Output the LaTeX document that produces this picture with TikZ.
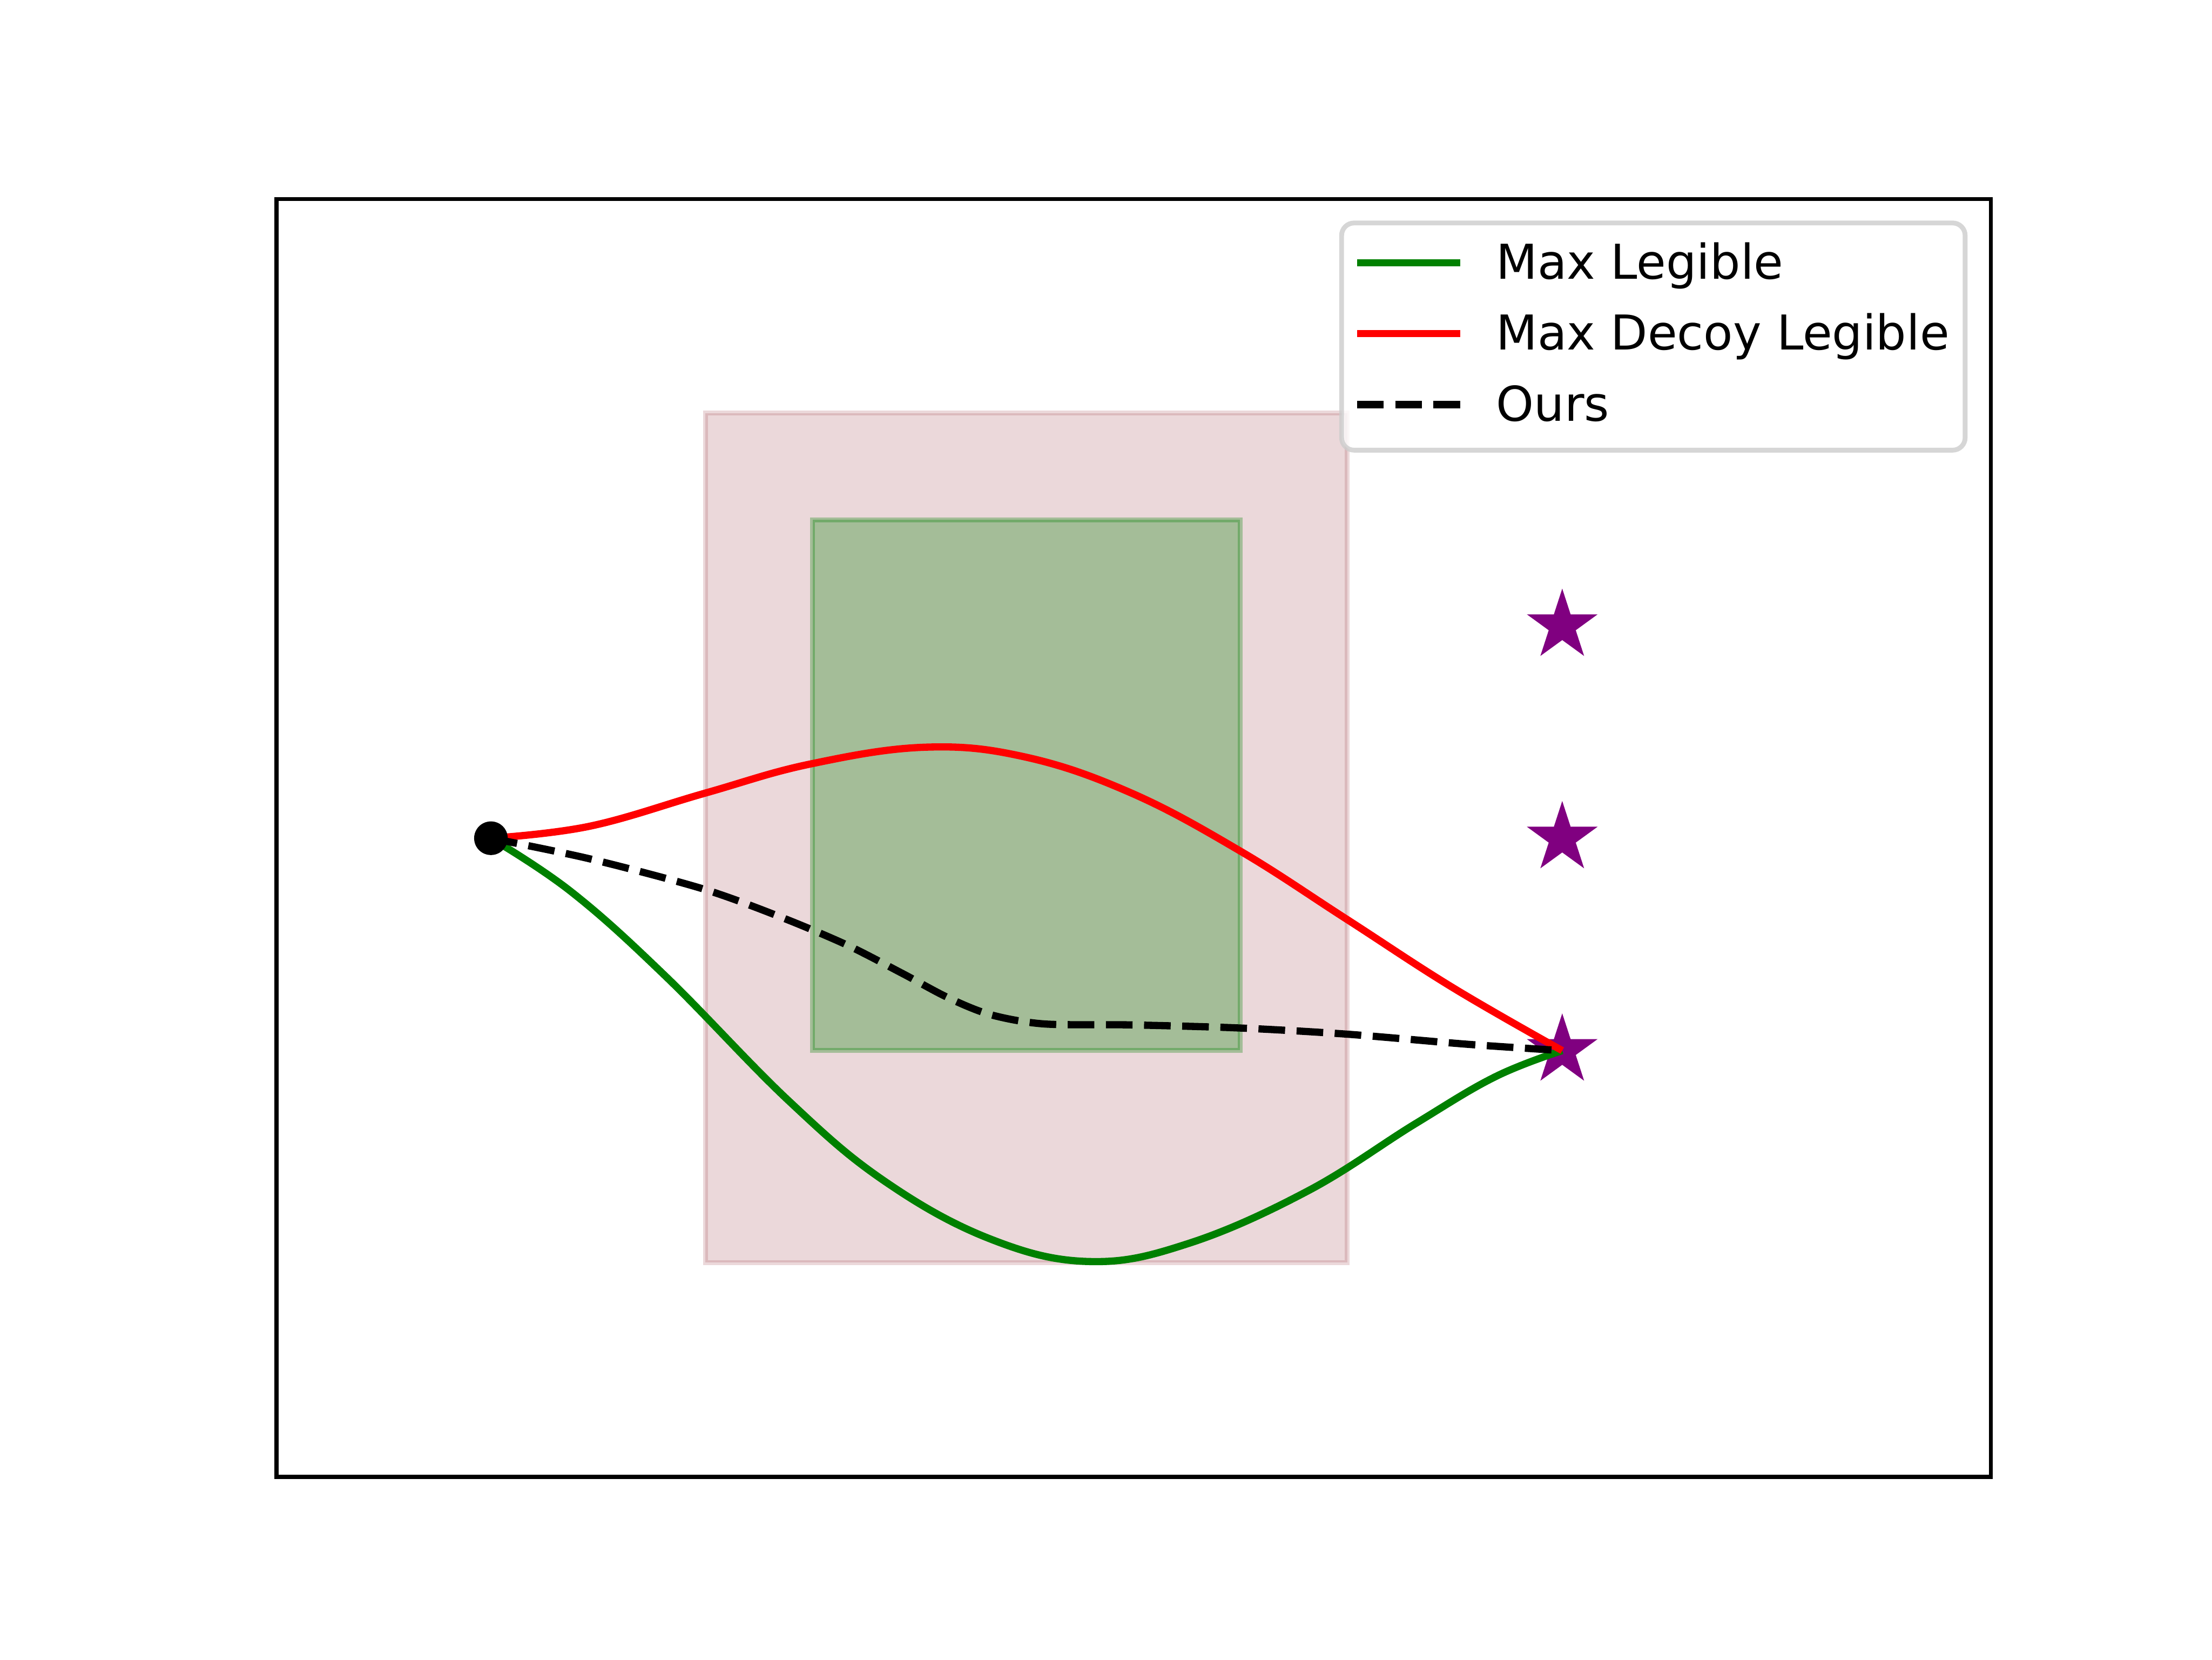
\documentclass[tikz,border=0pt]{standalone}
\usepackage{fontspec}
\setmainfont{DejaVu Sans}
\usetikzlibrary{shapes.geometric}
\definecolor{mplgreen}{RGB}{0,128,0}
\definecolor{mplred}{RGB}{255,0,0}
\definecolor{mplpurple}{RGB}{128,0,128}
\definecolor{zonered}{RGB}{155,60,70}
\definecolor{legendedge}{RGB}{204,204,204}

\begin{document}
\begin{tikzpicture}[x=0.293878pt,y=-0.293878pt,
  zone/.style={fill=#1,draw=#1,line width=1pt},
  maxleg/.style={draw=mplgreen,line width=1.5pt},
  decoyleg/.style={draw=mplred,line width=1.5pt},
  ours/.style={draw=black,line width=1.5pt,dash pattern=on 5.55pt off 2.4pt},
  goalstar/.style={star,star points=5,star point ratio=2.618,fill=mplpurple,
    inner sep=0pt,minimum size=15.5pt},
  startdot/.style={circle,fill=black,inner sep=0pt,minimum size=7pt},
  legtext/.style={anchor=base west,font=\fontsize{10}{12}\selectfont,inner sep=0pt}]
\useasboundingbox (0,0) rectangle (1568,1176);
% axes frame
\draw[line width=0.8pt] (196,141.1) rectangle (1411.2,1046.6);
% regions
\filldraw[zone=zonered,fill opacity=0.2,draw opacity=0.2] (500,292.8) rectangle (955,894.7);
\filldraw[zone=mplgreen,fill opacity=0.3,draw opacity=0.3] (576,368.3) rectangle (879,744.2);
% goals and start
\foreach \y [count=\i] in {443.5,594,744.5}
  \node[goalstar] (g\i) at (1107.4,\y) {};
\coordinate (start) at (348,594);
% trajectories
\draw[maxleg] plot[smooth,tension=0.65] coordinates {(start) (405,632) (472,692)
  (559,780) (627,837) (702,878) (773,894) (843,881) (927,844) (1003,796.5)
  (1060,763) (g3)};
\draw[decoyleg] plot[smooth,tension=0.65] coordinates {(start) (418,585.5) (500,562)
  (574,541.5) (656,529.5) (727,536.5) (802,562) (879,603) (954,651) (1030,700) (g3)};
\draw[ours] plot[smooth] coordinates {(start) (418,608.6) (498,629.8) (553,649.7)
  (600,669.5) (640,690) (672,707) (702,719) (740,725.6) (802,726.3) (879,728.5)
  (954,732.8) (1040,740) (g3)};
\node[startdot] (dot) at (start) {};
% legend
\filldraw[fill=white,fill opacity=0.8,draw=legendedge,draw opacity=0.8,line width=1pt,
  rounded corners=2.6pt] (951,158) rectangle (1393,319);
\draw[maxleg] (962,186.1) -- (1035,186.1);
\draw[decoyleg] (962,236.3) -- (1035,236.3);
\draw[ours] (962,286.7) -- (1035,286.7);
\node[legtext] (l1) at (1060,197.7) {Max Legible};
\node[legtext] (l2) at (1060,248) {Max Decoy Legible};
\node[legtext] (l3) at (1060,298.5) {Ours};
\end{tikzpicture}
\end{document}
